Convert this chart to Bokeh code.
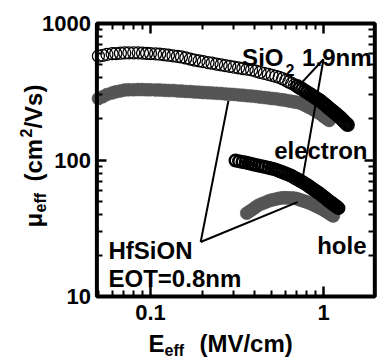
import math
from bokeh.plotting import figure
from bokeh.models import FixedTicker, LogAxis, Label, CustomJSTickFormatter, BoxAnnotation
from bokeh.embed import file_html
from bokeh.resources import INLINE

# ---------------- data ----------------
# SiO2 1.9nm, electron (open black circles)
e_sio2_el = [0.05, 0.053, 0.056, 0.06, 0.063, 0.067, 0.071, 0.075, 0.08, 0.085,
             0.09, 0.095, 0.1, 0.107, 0.113, 0.12, 0.127, 0.135, 0.143, 0.151,
             0.16, 0.17, 0.18, 0.191, 0.202, 0.215, 0.227, 0.241, 0.256, 0.271,
             0.287, 0.304, 0.323, 0.342, 0.362, 0.384, 0.407,
             0.43, 0.455, 0.48, 0.505, 0.53, 0.555, 0.58, 0.605, 0.63, 0.655,
             0.68, 0.705, 0.73, 0.755, 0.78, 0.805, 0.83, 0.855, 0.88, 0.905,
             0.93, 0.955, 0.98, 1.005, 1.03, 1.055, 1.08, 1.105, 1.13, 1.155,
             1.18, 1.205, 1.23, 1.255, 1.28, 1.305, 1.33, 1.355, 1.38]
mu_sio2_el = [577, 585, 594, 601, 603, 606, 609, 610, 610, 610,
              608, 605, 603, 599, 597, 591, 586, 580, 574, 569,
              559, 549, 540, 533, 526, 518, 512, 505, 498, 492,
              486, 479, 474, 468, 463, 457, 448,
              439, 431, 424, 417, 410, 403, 394, 383, 373, 364,
              355, 347, 338, 330, 321, 313, 305, 298, 291, 284,
              278, 272, 265, 258, 252, 245, 239, 233, 228, 223,
              218, 213, 208, 204, 199, 194, 189, 185, 181]

# HfSiON EOT=0.8nm, electron (grey filled circles)
e_hf_el = [0.05, 0.053, 0.056, 0.06, 0.063, 0.067, 0.071, 0.075, 0.08, 0.085,
           0.09, 0.095, 0.1, 0.107, 0.113, 0.12, 0.127, 0.135, 0.143, 0.151,
           0.16, 0.17, 0.18, 0.191, 0.202, 0.215, 0.227, 0.241, 0.256, 0.271,
           0.287, 0.304, 0.323, 0.342, 0.362, 0.384, 0.407,
           0.43, 0.455, 0.48, 0.505, 0.53, 0.555, 0.58, 0.605, 0.63, 0.655,
           0.68, 0.705, 0.73, 0.755, 0.78, 0.805, 0.83, 0.855, 0.88, 0.905,
           0.93, 0.955, 0.98, 1.005, 1.03, 1.055, 1.08]
mu_hf_el = [282, 291, 302, 310, 316, 321, 326, 327, 327, 328,
            328, 327, 327, 326, 326, 324, 323, 323, 321, 320,
            318, 317, 315, 314, 312, 311, 310, 308, 307, 305,
            303, 302, 300, 298, 296, 294, 292,
            289, 287, 285, 282, 281, 278, 276, 274, 271, 269,
            266, 265, 262, 258, 252, 247, 243, 238, 233, 228,
            223, 219, 214, 208, 204, 199, 195]

# SiO2 1.9nm, hole (black circles)
e_sio2_h = [0.31, 0.325, 0.34, 0.355, 0.37, 0.385, 0.40, 0.42, 0.44, 0.46,
            0.48, 0.50, 0.52, 0.54, 0.56, 0.58, 0.60, 0.62, 0.64, 0.66,
            0.68, 0.70, 0.72, 0.74, 0.76, 0.78, 0.80, 0.82, 0.84, 0.86,
            0.88, 0.90, 0.92, 0.94, 0.96, 0.98, 1.00, 1.02, 1.04, 1.06,
            1.08, 1.10, 1.12, 1.14, 1.16, 1.18, 1.20, 1.22]
mu_sio2_h = [99.2, 98.0, 96.8, 95.9, 94.6, 93.5, 92.4, 91.2, 90.0, 88.8,
             87.7, 86.7, 85.7, 84.3, 82.7, 81.4, 80.0, 78.7, 77.4, 75.9,
             74.2, 72.8, 71.3, 69.9, 68.6, 67.3, 66.0, 64.5, 63.2, 61.8,
             60.6, 59.4, 58.3, 57.3, 56.2, 55.0, 53.9, 52.8, 51.9, 50.8,
             49.9, 48.9, 48.2, 47.4, 46.5, 45.8, 45.2, 44.4]

# HfSiON EOT=0.8nm, hole (grey filled circles)
e_hf_h = [0.36, 0.375, 0.39, 0.405, 0.42, 0.44, 0.46, 0.48, 0.50, 0.52,
          0.54, 0.56, 0.58, 0.60, 0.62, 0.64, 0.66, 0.68, 0.70, 0.72,
          0.74, 0.76, 0.78, 0.80, 0.82, 0.84, 0.86, 0.88, 0.90, 0.92,
          0.94, 0.96, 0.98, 1.00, 1.02, 1.04, 1.06, 1.08, 1.10, 1.12, 1.14]
mu_hf_h = [40.8, 42.2, 43.6, 45.1, 46.6, 47.8, 48.9, 50.0, 50.9, 51.4,
           52.0, 52.5, 52.9, 52.8, 52.8, 52.7, 52.6, 52.5, 52.1, 51.5,
           50.9, 50.3, 49.8, 49.3, 48.7, 48.3, 47.5, 46.9, 46.2, 45.6,
           45.0, 44.4, 43.8, 43.2, 42.5, 41.9, 41.3, 40.6, 40.0, 39.5, 38.9]

# callout lines (apex -> curve points), in data units
sio2_call_x0 = [1.0, 1.0]
sio2_call_y0 = [547, 547]
sio2_call_x1 = [0.726, 0.757]
sio2_call_y1 = [354, 73.3]
hf_call_x0 = [0.195, 0.195]
hf_call_y0 = [25.1, 25.1]
hf_call_x1 = [0.282, 0.708]
hf_call_y1 = [271, 49.1]

# axes
x_lim = (0.049, 1.98)
y_lim = (10, 1000)
x_major = [0.1, 1]
x_minor = [0.05, 0.06, 0.07, 0.08, 0.09, 0.2, 0.3, 0.4, 0.5, 0.6, 0.7, 0.8, 0.9]
y_major = [10, 100, 1000]
y_minor = [20, 30, 40, 50, 60, 70, 80, 90, 200, 300, 400, 500, 600, 700, 800, 900]

FONT = "Liberation Sans"
GRAY = "#555555"

# The frame fills the whole canvas; the plot box is drawn at x_lim / y_lim
# so that the axis titles (outside the box) are not clipped.
p = figure(width=378, height=358, x_axis_type="log", y_axis_type="log",
           x_range=(0.013584, 2.0794), y_range=(3.5144, 1474.4),
           output_backend="svg", toolbar_location=None,
           min_border_left=0, min_border_right=0, min_border_top=0,
           min_border_bottom=0)
p.grid.visible = False
p.outline_line_color = None
p.background_fill_color = "white"
p.border_fill_color = "white"

fmt_code = "return String(Number(tick.toPrecision(6)));"
blank_code = "return '';"


def style_axis(ax, ticks, minor, labels, loc, bounds):
    ax.fixed_location = loc
    ax.bounds = bounds
    ax.ticker = FixedTicker(ticks=ticks, minor_ticks=minor)
    ax.axis_line_color = None
    ax.major_tick_in = 10
    ax.major_tick_out = 0
    ax.minor_tick_in = 6
    ax.minor_tick_out = 0
    ax.major_tick_line_width = 2.5
    ax.minor_tick_line_width = 2
    ax.major_tick_line_color = "black"
    ax.minor_tick_line_color = "black"
    if labels:
        ax.formatter = CustomJSTickFormatter(code=fmt_code)
        ax.major_label_text_font = FONT
        ax.major_label_text_font_style = "bold"
        ax.major_label_text_font_size = "22px"
        ax.major_label_text_color = "black"
    else:
        ax.formatter = CustomJSTickFormatter(code=blank_code)
        ax.major_label_text_color = None
        ax.major_label_standoff = 0


style_axis(p.xaxis[0], x_major, x_minor, True, y_lim[0], x_lim)
p.xaxis[0].major_label_standoff = 8
style_axis(p.yaxis[0], y_major, y_minor, True, x_lim[0], y_lim)
p.yaxis[0].major_label_standoff = 6

top_ax = LogAxis()
style_axis(top_ax, x_major, x_minor, False, y_lim[1], x_lim)
p.add_layout(top_ax, "above")
right_ax = LogAxis()
style_axis(right_ax, y_major, y_minor, False, x_lim[1], y_lim)
p.add_layout(right_ax, "right")

# plot box
p.add_layout(BoxAnnotation(left=x_lim[0], right=x_lim[1], bottom=y_lim[0], top=y_lim[1],
                           fill_color=None, fill_alpha=0, line_color="black",
                           line_width=4, line_alpha=1))

# curves
p.scatter(e_hf_el, mu_hf_el, marker="circle", size=13,
          fill_color=GRAY, line_color=GRAY, line_width=0.5)
p.scatter(e_hf_h, mu_hf_h, marker="circle", size=13,
          fill_color=GRAY, line_color=GRAY, line_width=0.5)

# open circles: the dense high-field part of the SiO2 electron curve prints
# almost solid in the reference, so it gets a heavier outline
E_DENSE = 0.7
lo = [i for i, e in enumerate(e_sio2_el) if e < E_DENSE]
hi = [i for i, e in enumerate(e_sio2_el) if e >= E_DENSE]
p.scatter([e_sio2_el[i] for i in lo], [mu_sio2_el[i] for i in lo],
          marker="circle", size=12, fill_color=None, line_color="black",
          line_width=1.25)
p.scatter([e_sio2_el[i] for i in hi], [mu_sio2_el[i] for i in hi],
          marker="circle", size=12, fill_color=None, line_color="black",
          line_width=2.4)
p.scatter(e_sio2_h, mu_sio2_h, marker="circle", size=11.5,
          fill_color=None, line_color="black", line_width=2.5)

# callouts
p.segment(sio2_call_x0, sio2_call_y0, sio2_call_x1, sio2_call_y1,
          line_color="black", line_width=2)
p.segment(hf_call_x0, hf_call_y0, hf_call_x1, hf_call_y1,
          line_color="black", line_width=2)


def lab(x, y, text, size=24, align="left", angle=0.0):
    p.add_layout(Label(x=x, y=y, text=text, text_font=FONT,
                       text_font_style="bold", text_font_size=f"{size}px",
                       text_color="black", text_align=align,
                       text_baseline="alphabetic", angle=angle))


# annotation texts
lab(0.587, 564, "SiO", align="right")
lab(0.603, 453, "2", size=16)
lab(1.894, 564, "1.9nm", align="right")
lab(1.796, 117.4, "electron", align="right")
lab(1.773, 23.6, "hole", align="right")
lab(0.0572, 21.7, "HfSiON")
lab(0.0572, 13.55, "EOT=0.8nm")

# x axis title
lab(0.0974, 4.526, "E")
lab(0.1205, 4.022, "eff", size=16)
lab(0.1919, 4.526, "(MV/cm)")

# y axis title (rotated)
A = math.pi / 2
lab(0.02108, 32.0, "\u03bc", angle=A)
lab(0.02313, 41.3, "eff", size=16, angle=A)
lab(0.02108, 69.6, "(cm", angle=A)
lab(0.01895, 146, "2", size=16, angle=A)
lab(0.02108, 170, "/Vs)", angle=A)

open("out.html", "w").write(file_html(p, INLINE))
